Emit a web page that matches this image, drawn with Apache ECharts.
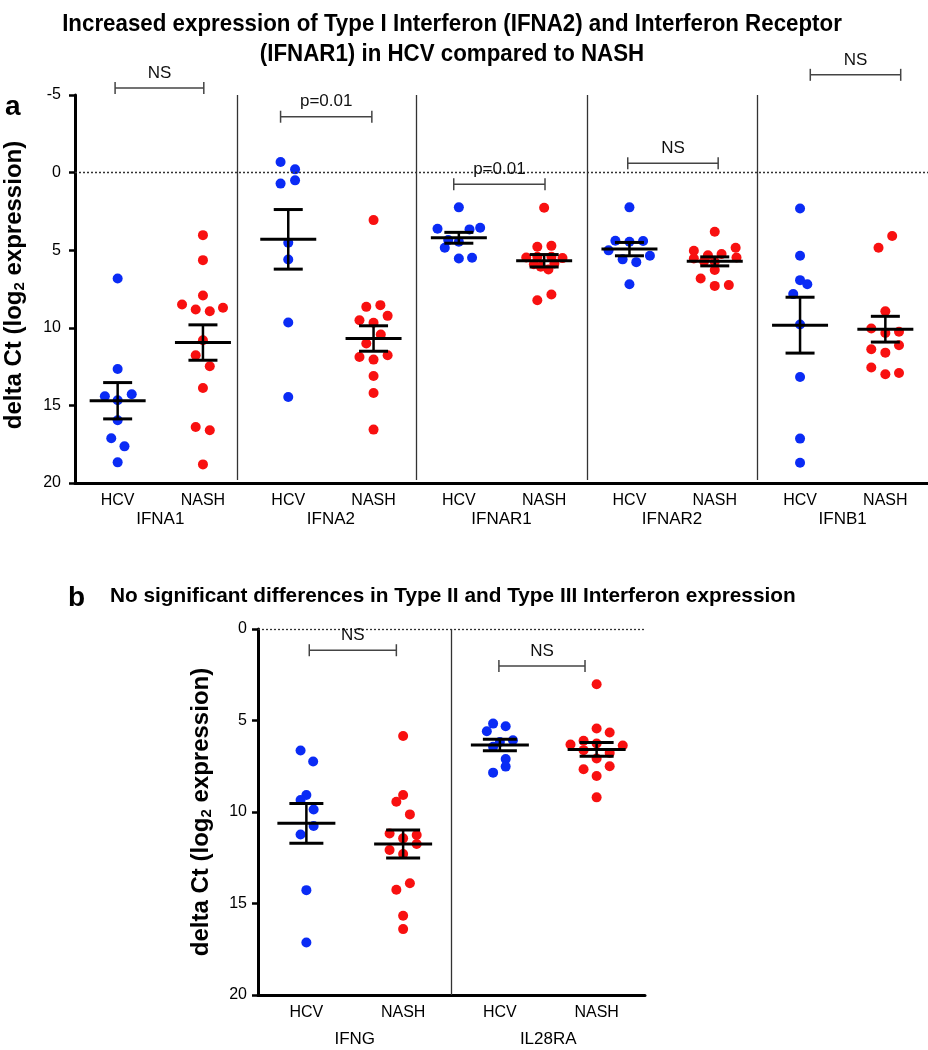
<!DOCTYPE html>
<html>
<head>
<meta charset="utf-8">
<script src="https://cdn.jsdelivr.net/npm/echarts@6/dist/echarts.min.js"></script>
<style>
  html, body { margin: 0; padding: 0; background: #fff; }
  #app { width: 928px; height: 1050px; }
</style>
</head>
<body>
<div id="app"></div>
<script>
const app = document.getElementById("app");
const myChart = echarts.init(app);

// categories
const groups = ["HCV", "NASH"];
const genesA = ["IFNA1", "IFNA2", "IFNAR1", "IFNAR2", "IFNB1"];
const genesB = ["IFNG", "IL28RA"];

// points: [jitter (fraction of a slot), delta Ct]
const ifna1Hcv = [[0, 6.82], [0, 12.65], [-0.15, 14.41], [0, 14.67], [0.165, 14.28], [0, 15.96], [-0.075, 17.12], [0.08, 17.64], [0, 18.67]];
const ifna1Nash = [[0, 4.03], [0, 5.64], [0, 7.92], [-0.245, 8.5], [-0.085, 8.82], [0.08, 8.93], [0.235, 8.71], [0, 10.8], [-0.085, 11.77], [0.08, 12.48], [0, 13.88], [-0.085, 16.39], [0.08, 16.6], [0, 18.8]];
const ifna2Hcv = [[-0.09, -0.68], [0.08, -0.21], [-0.09, 0.71], [0.08, 0.5], [0, 4.52], [0, 5.6], [0, 9.66], [0, 14.46]];
const ifna2Nash = [[0, 3.06], [-0.085, 8.65], [0.08, 8.54], [-0.165, 9.51], [0, 9.68], [0.165, 9.23], [0.085, 10.43], [-0.085, 11.01], [-0.165, 11.88], [0.165, 11.77], [0, 12.05], [0, 13.1], [0, 14.2], [0, 16.56]];
const ifnar1Hcv = [[0, 2.24], [-0.25, 3.62], [0.125, 3.66], [0.25, 3.55], [-0.125, 4.35], [0, 4.46], [-0.165, 4.84], [0, 5.53], [0.155, 5.49]];
const ifnar1Nash = [[0, 2.26], [-0.08, 4.78], [0.085, 4.72], [-0.21, 5.47], [-0.08, 5.42], [0.085, 5.42], [0.215, 5.51], [-0.12, 5.9], [-0.04, 6.07], [0.05, 6.24], [0.12, 5.85], [0.085, 7.85], [-0.08, 8.22]];
const ifnar2Hcv = [[0, 2.24], [-0.165, 4.39], [0, 4.46], [0.16, 4.41], [-0.245, 5.01], [-0.08, 5.59], [0.08, 5.77], [0.24, 5.36], [0, 7.19]];
const ifnar2Nash = [[0, 3.81], [-0.245, 5.04], [0.245, 4.84], [-0.08, 5.32], [0.08, 5.25], [-0.245, 5.53], [0.255, 5.47], [-0.125, 5.72], [0, 5.75], [0, 6.28], [-0.165, 6.82], [0, 7.3], [0.165, 7.25]];
const ifnb1Hcv = [[0, 2.31], [0, 5.36], [0, 6.93], [0.085, 7.19], [-0.08, 7.83], [0, 9.79], [0, 13.17], [0, 17.14], [0, 18.69]];
const ifnb1Nash = [[0.08, 4.09], [-0.08, 4.84], [0, 8.93], [-0.165, 10.05], [0, 10.33], [0.16, 10.26], [-0.165, 11.38], [0, 11.6], [0.16, 11.12], [-0.165, 12.56], [0, 12.99], [0.16, 12.91]];

const ifngHcv = [[-0.06, 6.64], [0.07, 7.24], [0, 9.07], [-0.06, 9.35], [0.075, 9.86], [0.075, 10.76], [-0.06, 11.23], [0, 14.27], [0, 17.13]];
const ifngNash = [[0, 5.85], [0, 9.07], [-0.07, 9.44], [0.07, 10.13], [-0.14, 11.17], [0, 11.44], [0.14, 11.26], [-0.14, 12.08], [0, 12.3], [0.14, 11.75], [0.07, 13.89], [-0.07, 14.25], [0, 15.67], [0, 16.4]];
const il28raHcv = [[-0.07, 5.17], [0.06, 5.31], [-0.135, 5.59], [0.135, 6.08], [0, 6.17], [-0.07, 6.44], [0.06, 7.11], [0.06, 7.52], [-0.07, 7.85]];
const il28raNash = [[0, 3.02], [0, 5.44], [0.135, 5.66], [-0.27, 6.31], [-0.135, 6.11], [0, 6.26], [0.27, 6.37], [-0.135, 6.62], [0.135, 6.77], [0, 7.08], [-0.135, 7.66], [0.135, 7.5], [0, 8.03], [0, 9.2]];

// mean and SEM per slot (HCV, NASH, HCV, NASH ...)
const meansA = [14.7, 10.95, 4.3, 10.69, 4.2, 5.68, 4.93, 5.72, 9.83, 10.09];
const semA = [1.17, 1.14, 1.92, 0.82, 0.35, 0.4, 0.43, 0.29, 1.8, 0.83];
const meansB = [10.62, 11.75, 6.34, 6.58];
const semB = [1.09, 0.76, 0.31, 0.38];

// significance brackets: [from, to, level]
const bracketsA = [[0.47, 1.51, -5.45], [2.41, 3.48, -3.6], [4.44, 5.51, 0.75], [6.48, 7.54, -0.6], [8.62, 9.68, -6.3]];
const bracketTextA = ["NS", "p=0.01", "p=0.01", "NS", "NS"];
const bracketsB = [[0.53, 1.43, 1.16], [2.49, 3.38, 2.02]];
const bracketTextB = ["NS", "NS"];

const dividersA = [1.9, 4, 6, 8];
const dividersB = [2];

const BLUE = "#0a2bf5";
const RED = "#f81010";
const FONT = "'Liberation Sans', Arial, sans-serif";

const place = function (points, slot) {
  return points.map(function (p) {
    return [slot + 0.5 + p[0], p[1]];
  });
};
const slotsA = genesA.length * 2;
const slotsB = genesB.length * 2;
const catsA = [];
genesA.forEach(function () { catsA.push(groups[0], groups[1]); });
const catsB = [];
genesB.forEach(function () { catsB.push(groups[0], groups[1]); });

const hcvA = [].concat(place(ifna1Hcv, 0), place(ifna2Hcv, 2), place(ifnar1Hcv, 4), place(ifnar2Hcv, 6), place(ifnb1Hcv, 8));
const nashA = [].concat(place(ifna1Nash, 1), place(ifna2Nash, 3), place(ifnar1Nash, 5), place(ifnar2Nash, 7), place(ifnb1Nash, 9));
const hcvB = [].concat(place(ifngHcv, 0), place(il28raHcv, 2));
const nashB = [].concat(place(ifngNash, 1), place(il28raNash, 3));

const meanData = function (means, sems) {
  return means.map(function (m, i) { return [i + 0.5, m, sems[i]]; });
};

const meanRender = function (halfW, capW) {
  return function (params, api) {
    const x = api.value(0), m = api.value(1), s = api.value(2);
    const c = api.coord([x, m]);
    const t = api.coord([x, m - s]);
    const b = api.coord([x, m + s]);
    const st = { stroke: "#000", lineWidth: 3 };
    return {
      type: "group",
      children: [
        { type: "line", shape: { x1: c[0] - halfW, y1: c[1], x2: c[0] + halfW, y2: c[1] }, style: st },
        { type: "line", shape: { x1: c[0], y1: t[1], x2: c[0], y2: b[1] }, style: { stroke: "#000", lineWidth: 2.5 } },
        { type: "line", shape: { x1: c[0] - capW, y1: t[1], x2: c[0] + capW, y2: t[1] }, style: st },
        { type: "line", shape: { x1: c[0] - capW, y1: b[1], x2: c[0] + capW, y2: b[1] }, style: st },
      ],
    };
  };
};

const bracketRender = function (labels) {
  return function (params, api) {
    const p1 = api.coord([api.value(0), api.value(2)]);
    const p2 = api.coord([api.value(1), api.value(2)]);
    const st = { stroke: "#444", lineWidth: 1.5 };
    return {
      type: "group",
      children: [
        { type: "line", shape: { x1: p1[0], y1: p1[1], x2: p2[0], y2: p2[1] }, style: st },
        { type: "line", shape: { x1: p1[0], y1: p1[1] - 6, x2: p1[0], y2: p1[1] + 6 }, style: st },
        { type: "line", shape: { x1: p2[0], y1: p2[1] - 6, x2: p2[0], y2: p2[1] + 6 }, style: st },
        {
          type: "text",
          x: (p1[0] + p2[0]) / 2,
          y: p1[1] - 15,
          style: { text: labels[params.dataIndex], fill: "#111", font: "17px " + FONT, align: "center", verticalAlign: "middle" },
        },
      ],
    };
  };
};

const refLines = function (dividers, yTop, yBottom) {
  const lines = [{ yAxis: 0, lineStyle: { type: [2, 2], color: "#333", width: 1.3 } }];
  dividers.forEach(function (d) {
    lines.push([{ coord: [d, yTop] }, { coord: [d, yBottom], lineStyle: { type: "solid", color: "#333", width: 1.3 } }]);
  });
  return lines;
};

const catAxis = function (gridIndex, data) {
  return {
    gridIndex: gridIndex,
    type: "category",
    position: "bottom",
    data: data,
    boundaryGap: true,
    axisLine: { onZero: false, lineStyle: { color: "#000", width: 3 } },
    axisTick: { alignWithLabel: true, length: 6, lineStyle: { color: "#000", width: 3 } },
    axisLabel: { color: "#000", fontSize: 16, fontFamily: FONT, margin: 10 },
    splitLine: { show: false },
  };
};
const geneAxis = function (gridIndex, data, offset) {
  return {
    gridIndex: gridIndex,
    type: "category",
    position: "bottom",
    offset: offset,
    data: data,
    axisLine: { show: false },
    axisTick: { show: false },
    axisLabel: { color: "#000", fontSize: 17, fontFamily: FONT, margin: 8 },
    splitLine: { show: false },
  };
};
const yName = "delta Ct (log{sub|2} expression)";
const valAxis = function (gridIndex, min, padTop, gap, labelMargin) {
  return {
    gridIndex: gridIndex,
    type: "value",
    inverse: true,
    min: min,
    max: 20,
    interval: 5,
    axisLine: { show: true, onZero: false, lineStyle: { color: "#000", width: 3 } },
    axisTick: { show: true, length: 6, lineStyle: { color: "#000", width: 2.5 } },
    axisLabel: { color: "#000", fontSize: 16, fontFamily: FONT, margin: labelMargin },
    splitLine: { show: false },
    name: yName,
    nameLocation: "middle",
    nameGap: gap,
    nameTextStyle: {
      color: "#000",
      fontSize: 24,
      fontWeight: "bold",
      fontFamily: FONT,
      padding: [0, 0, 0, padTop],
      rich: { sub: { fontSize: 15, fontWeight: "bold", fontFamily: FONT, color: "#000", padding: [11, 0, 0, 0] } },
    },
  };
};

const option = {
  animation: false,
  backgroundColor: "#fff",
  graphic: [
    {
      type: "text",
      x: 452,
      y: 9,
      scaleX: 0.93,
      style: {
        text: "Increased expression of Type I Interferon (IFNA2) and Interferon Receptor\n(IFNAR1) in HCV compared to NASH",
        font: "bold 24px " + FONT,
        fill: "#000",
        align: "center",
        verticalAlign: "top",
        lineHeight: 30,
      },
    },
  ],
  title: [
    { text: "a", left: 5, top: 93, padding: 0, textStyle: { fontSize: 28, fontWeight: "bold", color: "#000", fontFamily: FONT } },
    { text: "b", left: 68, top: 584, padding: 0, textStyle: { fontSize: 28, fontWeight: "bold", color: "#000", fontFamily: FONT } },
    {
      text: "No significant differences in Type II and Type III Interferon expression",
      left: 110,
      top: 586,
      padding: 0,
      textStyle: { fontSize: 20.8, fontWeight: "bold", color: "#000", fontFamily: FONT },
    },
  ],
  grid: [
    { left: 75, top: 95, width: 853, height: 388, outerBoundsMode: "none", containLabel: false },
    { left: 258, top: 629, width: 387, height: 366, outerBoundsMode: "none", containLabel: false },
  ],
  xAxis: [
    catAxis(0, catsA),
    geneAxis(0, genesA, 20),
    { gridIndex: 0, type: "value", min: 0, max: slotsA, show: false },
    catAxis(1, catsB),
    geneAxis(1, genesB, 28),
    { gridIndex: 1, type: "value", min: 0, max: slotsB, show: false },
  ],
  yAxis: [valAxis(0, -5, 8, 48, 14), valAxis(1, 0, 0, 44, 11)],
  series: [
    {
      type: "scatter",
      name: "HCV",
      xAxisIndex: 2,
      yAxisIndex: 0,
      symbolSize: 10,
      itemStyle: { color: BLUE, opacity: 1 },
      data: hcvA,
      markLine: { silent: true, symbol: "none", label: { show: false }, data: refLines(dividersA, -5, 19.8) },
    },
    { type: "scatter", name: "NASH", xAxisIndex: 2, yAxisIndex: 0, symbolSize: 10, itemStyle: { color: RED, opacity: 1 }, data: nashA },
    { type: "custom", xAxisIndex: 2, yAxisIndex: 0, z: 5, clip: false, renderItem: meanRender(28, 14.5), data: meanData(meansA, semA) },
    { type: "custom", xAxisIndex: 2, yAxisIndex: 0, z: 5, clip: false, renderItem: bracketRender(bracketTextA), data: bracketsA },
    {
      type: "scatter",
      name: "HCV",
      xAxisIndex: 5,
      yAxisIndex: 1,
      symbolSize: 10,
      itemStyle: { color: BLUE, opacity: 1 },
      data: hcvB,
      markLine: { silent: true, symbol: "none", label: { show: false }, data: refLines(dividersB, 0, 20) },
    },
    { type: "scatter", name: "NASH", xAxisIndex: 5, yAxisIndex: 1, symbolSize: 10, itemStyle: { color: RED, opacity: 1 }, data: nashB },
    { type: "custom", xAxisIndex: 5, yAxisIndex: 1, z: 5, clip: false, renderItem: meanRender(29, 17), data: meanData(meansB, semB) },
    { type: "custom", xAxisIndex: 5, yAxisIndex: 1, z: 5, clip: false, renderItem: bracketRender(bracketTextB), data: bracketsB },
  ],
};
myChart.setOption(option);
</script>
</body>
</html>
